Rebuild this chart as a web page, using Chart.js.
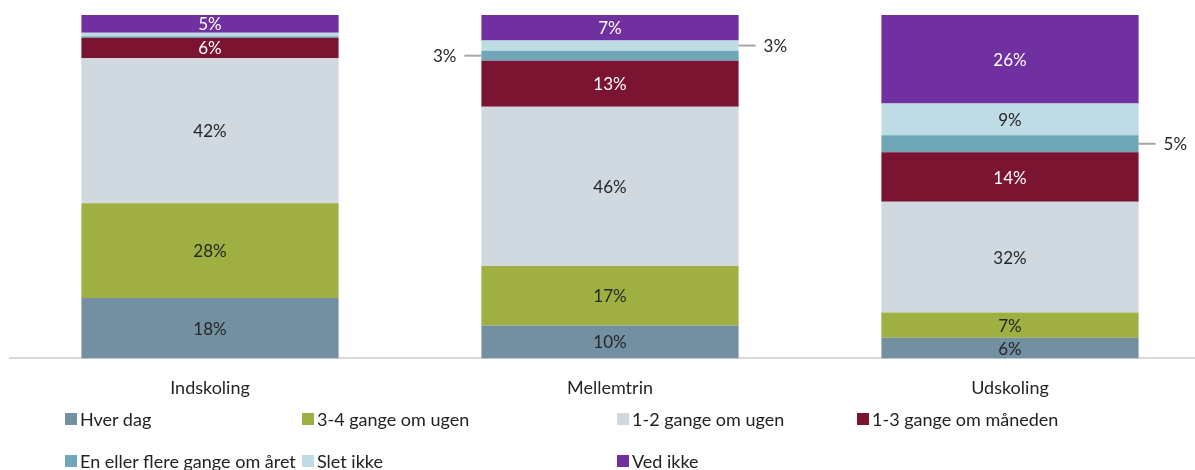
<!DOCTYPE html>
<html>
<head>
<meta charset="utf-8">
<script src="https://cdn.jsdelivr.net/npm/chart.js@4"></script>
<style>
  body { margin: 0; overflow: hidden; background: #fff; font-family: Lato, sans-serif; }
  #wrap { position: absolute; left: 0; top: 0; width: 1220px; height: 413px; }
  #legend { position: absolute; left: 65px; top: 407px; display: grid;
            grid-template-columns: 237px 315px 240px 260px; row-gap: 18px; }
  #legend div { display: flex; align-items: center; font-size: 18px; color: #222; white-space: nowrap; height: 24px; }
  #legend span { display: inline-block; flex-shrink: 0; width: 12px; height: 12px; margin-right: 3px; }
</style>
</head>
<body>
<div id="wrap"><canvas id="chart" width="1220" height="413"></canvas></div>
<div id="legend"></div>
<script>
const categories = ["Indskoling", "Mellemtrin", "Udskoling"];
const seriesNames = ["Hver dag", "3-4 gange om ugen", "1-2 gange om ugen", "1-3 gange om måneden",
                     "En eller flere gange om året", "Slet ikke", "Ved ikke"];
const hverDag      = [17.6,  9.6,  6.0];
const treFire      = [27.6, 17.3,  7.4];
const enTo         = [42.2, 46.4, 32.2];
const enTreMaaned  = [ 6.0, 13.4, 14.4];
const enEllerFlere = [ 0.4,  2.9,  5.0];
const sletIkke     = [ 1.0,  3.0,  9.2];
const vedIkke      = [ 5.2,  7.4, 25.8];

const colors = ["#7390A3", "#A0AF42", "#D0D8E0", "#7B1430", "#6FA7B9", "#BEDCE3", "#7030A0"];
const labelColors = ["#262626", "#262626", "#262626", "#ffffff", "#262626", "#262626", "#ffffff"];
// small segments labelled beside the bar: "category,dataset" -> side
const outsideLabels = { "1,4": "left", "1,5": "right", "2,4": "right" };

const allSeries = [hverDag, treFire, enTo, enTreMaaned, enEllerFlere, sletIkke, vedIkke];

const segLabels = {
    id: "segLabels",
    afterDatasetsDraw(chart) {
        const ctx = chart.ctx;
        ctx.save();
        ctx.font = "17px Lato";
        ctx.textBaseline = "middle";
        chart.data.datasets.forEach((ds, di) => {
            chart.getDatasetMeta(di).data.forEach((bar, i) => {
                const v = ds.data[i];
                const txt = Math.round(v) + "%";
                const p = bar.getProps(["x", "y", "base", "width"], true);
                const cy = (p.y + p.base) / 2;
                const side = outsideLabels[i + "," + di];
                if (side) {
                    const edge = side === "left" ? p.x - p.width / 2 : p.x + p.width / 2;
                    const dir = side === "left" ? -1 : 1;
                    ctx.strokeStyle = "#a6a6a6";
                    ctx.lineWidth = 2;
                    ctx.beginPath();
                    ctx.moveTo(edge, cy);
                    ctx.lineTo(edge + dir * 17, cy);
                    ctx.stroke();
                    ctx.fillStyle = "#262626";
                    ctx.textAlign = side === "left" ? "right" : "left";
                    ctx.fillText(txt, edge + dir * 25, cy + 1);
                } else if (v >= 2) {
                    ctx.fillStyle = labelColors[di];
                    ctx.textAlign = "center";
                    ctx.fillText(txt, p.x, cy + 1);
                }
            });
        });
        ctx.restore();
    }
};

const chart = new Chart(document.getElementById("chart").getContext("2d"), {
    type: "bar",
    data: {
        labels: categories,
        datasets: allSeries.map((d, k) => ({
            label: seriesNames[k],
            data: d,
            backgroundColor: colors[k],
            borderWidth: 0,
            barPercentage: 0.643,
            categoryPercentage: 1
        }))
    },
    options: {
        responsive: false,
        animation: false,
        layout: { padding: { left: 10, right: 10, top: 15, bottom: 3 } },
        scales: {
            x: {
                stacked: true,
                grid: { display: false },
                border: { display: true, color: "#d9d9d9", width: 2 },
                ticks: { color: "#262626", font: { family: "Lato", size: 18 }, padding: 11 }
            },
            y: {
                stacked: true,
                display: false,
                min: 0,
                max: 100
            }
        },
        plugins: {
            legend: { display: false },
            tooltip: { enabled: false }
        }
    },
    plugins: [segLabels]
});

// legend built from the chart's datasets
const legend = document.getElementById("legend");
chart.data.datasets.forEach(ds => {
    const item = document.createElement("div");
    const box = document.createElement("span");
    box.style.background = ds.backgroundColor;
    item.appendChild(box);
    item.appendChild(document.createTextNode(ds.label));
    legend.appendChild(item);
});
</script>
</body>
</html>
